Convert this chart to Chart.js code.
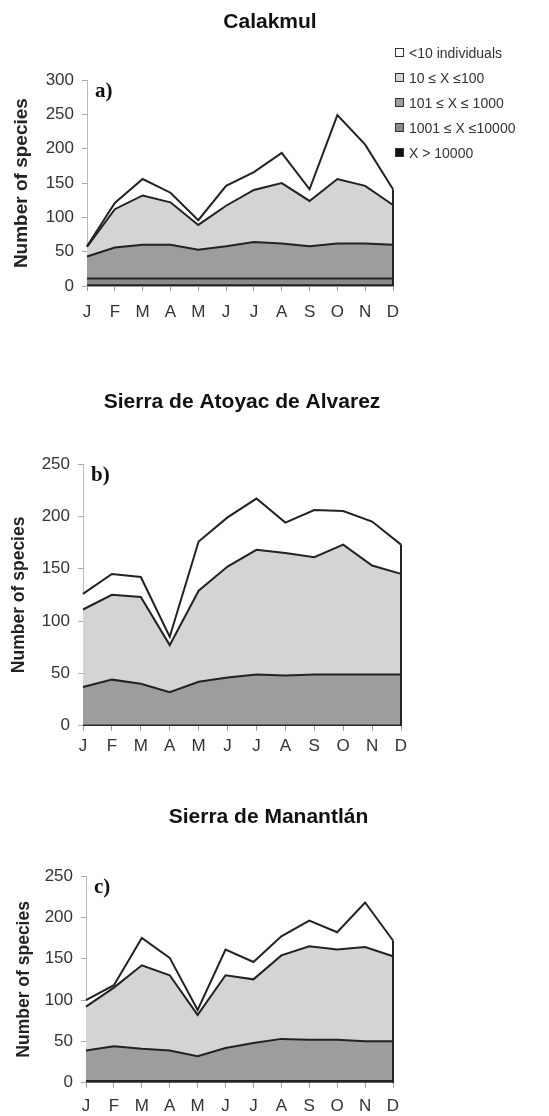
<!DOCTYPE html>
<html>
<head>
<meta charset="utf-8">
<script src="https://cdn.jsdelivr.net/npm/chart.js@4.4.1/dist/chart.umd.min.js"></script>
<style>
  body { margin: 0; background: #fff; width: 549px; height: 1116px; position: relative; overflow: hidden;
         font-family: "Liberation Sans", Arial, sans-serif; }
  canvas { position: absolute; left: 0; }
  #legend { position: absolute; left: 395px; top: 40px; font-size: 14px; color: #333; }
  #legend .item { height: 25px; display: flex; align-items: center; white-space: nowrap; }
  #legend .box { width: 7px; height: 7px; border: 1px solid #333; margin-right: 5px; }
</style>
</head>
<body>
<canvas id="calakmul" width="540" height="330" style="top:0px"></canvas>
<canvas id="atoyac" width="549" height="430" style="top:340px"></canvas>
<canvas id="manantlan" width="537" height="346" style="top:770px"></canvas>
<div id="legend"></div>
<script>
// months and abundance classes (legend order, top band first)
const months = ['J', 'F', 'M', 'A', 'M', 'J', 'J', 'A', 'S', 'O', 'N', 'D'];
const classLabels = ['<10 individuals', '10 \u2264 X \u2264100', '101 \u2264 X \u2264 1000', '1001 \u2264 X \u226410000', 'X > 10000'];

// a) Calakmul - species per class (not cumulative)
const calakmulOver10000 = [1, 1, 1, 1, 1, 1, 1, 1, 1, 1, 1, 1];
const calakmul1001to10000 = [10, 10, 10, 10, 10, 10, 10, 10, 10, 10, 10, 10];
const calakmul101to1000 = [32, 45, 49, 49, 42, 47, 53, 51, 47, 51, 51, 49];
const calakmul10to100 = [14, 56, 72, 62, 36, 59, 76, 88, 66, 94, 84, 58];
const calakmulUnder10 = [1, 9, 24, 14, 7, 29, 26, 44, 17, 93, 60, 23];

// b) Sierra de Atoyac de Alvarez
const atoyacOver10000 = [0, 0, 0, 0, 0, 0, 0, 0, 0, 0, 0, 0];
const atoyac1001to10000 = [0, 0, 0, 0, 0, 0, 0, 0, 0, 0, 0, 0];
const atoyac101to1000 = [37, 44, 40, 32, 42, 46, 49, 48, 49, 49, 49, 49];
const atoyac10to100 = [74, 81, 83, 45, 87, 106, 119, 117, 112, 124, 104, 96];
const atoyacUnder10 = [15, 20, 19, 8, 47, 47, 49, 29, 45, 32, 42, 28];

// c) Sierra de Manantlan
const manantlanOver10000 = [2, 2, 2, 2, 2, 2, 2, 2, 2, 2, 2, 2];
const manantlan1001to10000 = [0, 0, 0, 0, 0, 0, 0, 0, 0, 0, 0, 0];
const manantlan101to1000 = [37, 42, 39, 37, 30, 40, 46, 51, 50, 50, 48, 48];
const manantlan10to100 = [53, 71, 101, 91, 50, 88, 77, 101, 113, 109, 114, 103];
const manantlanUnder10 = [8, 3, 33, 21, 6, 31, 21, 23, 31, 21, 54, 19];

// fills, same order as classLabels
const classColors = ['#ffffff', '#d4d4d4', '#9d9d9d', '#8b8b8b', '#111111'];

const FONT = '"Liberation Sans", Arial, sans-serif';

// draws the "a)" / "b)" / "c)" tag inside the plot
const panelLetter = {
    id: 'panelLetter',
    afterDraw(chart, args, opts) {
        const { ctx, chartArea } = chart;
        ctx.save();
        ctx.font = 'bold 21px "Liberation Serif", "Times New Roman", serif';
        ctx.fillStyle = '#111';
        ctx.fillText(opts.text, chartArea.left + 8, chartArea.top + 17);
        ctx.restore();
    }
};

// closes the stack on the right with a dark edge at the last month
const rightEdge = {
    id: 'rightEdge',
    afterDatasetsDraw(chart) {
        const last = chart.getDatasetMeta(chart.data.datasets.length - 1).data;
        const pt = last[last.length - 1];
        const { ctx, chartArea } = chart;
        ctx.save();
        ctx.strokeStyle = '#222';
        ctx.lineWidth = 2;
        ctx.beginPath();
        ctx.moveTo(pt.x, pt.y);
        ctx.lineTo(pt.x, chartArea.bottom);
        ctx.stroke();
        ctx.restore();
    }
};

function stackedData(series) {
    // series given top band first, Chart.js stacks from first dataset up
    const bottomUp = series.slice().reverse();
    const colors = classColors.slice().reverse();
    const labels = classLabels.slice().reverse();
    return {
        labels: months,
        datasets: bottomUp.map((values, i) => ({
            label: labels[i],
            data: values,
            backgroundColor: colors[i],
            borderColor: '#222',
            borderWidth: 2,
            pointRadius: 0,
            tension: 0,
            fill: i === 0 ? 'origin' : '-1'
        }))
    };
}

function createPanel(chartId, series, p) {
    const ctx = document.getElementById(chartId).getContext('2d');
    return new Chart(ctx, {
        type: 'line',
        data: stackedData(series),
        plugins: [panelLetter, rightEdge],
        options: {
            responsive: false,
            animation: false,
            devicePixelRatio: 1,
            layout: { padding: { left: 0, right: 0, top: 0, bottom: p.padBottom } },
            plugins: {
                legend: { display: false },
                tooltip: { enabled: false },
                title: {
                    display: true,
                    text: p.title,
                    fullSize: p.titleFullSize,
                    color: '#111',
                    font: { family: FONT, size: 21, weight: 'bold' },
                    padding: { top: p.titleTop, bottom: p.titleBottom }
                },
                panelLetter: { text: p.letter }
            },
            scales: {
                x: {
                    grid: { display: true, drawOnChartArea: false, tickLength: 5, color: '#999' },
                    border: { color: '#999' },
                    ticks: { color: '#333', font: { family: FONT, size: 17 }, padding: p.xPad, autoSkip: false, maxRotation: 0 },
                    afterFit: s => { s.height = p.xHeight; }
                },
                y: {
                    stacked: true,
                    min: 0,
                    max: p.yMax,
                    grid: { display: true, drawOnChartArea: false, tickLength: 5, color: '#aaa' },
                    border: { color: '#bbb' },
                    ticks: { stepSize: 50, color: '#333', font: { family: FONT, size: 17 }, padding: 8 },
                    title: {
                        display: true,
                        text: 'Number of species',
                        color: '#222',
                        font: { family: FONT, size: p.yTitleSize, weight: 'bold' },
                        padding: { top: p.yTitlePad, bottom: 0 }
                    },
                    afterFit: s => { s.width = p.yWidth; }
                },
                // empty right-hand axis: only reserves the space beside the plot
                spacer: {
                    position: 'right',
                    grid: { display: false },
                    border: { display: false },
                    ticks: { display: false },
                    afterFit: s => { s.width = p.padRight; }
                }
            }
        }
    });
}

createPanel('calakmul',
    [calakmulUnder10, calakmul10to100, calakmul101to1000, calakmul1001to10000, calakmulOver10000],
    { title: 'Calakmul', titleFullSize: true, titleTop: 10, titleBottom: 45, letter: 'a)',
      yMax: 300, yWidth: 87, padRight: 147, padBottom: 8, xHeight: 36, xPad: 11,
      yTitleSize: 19, yTitlePad: 10 });

createPanel('atoyac',
    [atoyacUnder10, atoyac10to100, atoyac101to1000, atoyac1001to10000, atoyacOver10000],
    { title: 'Sierra de Atoyac de Alvarez', titleFullSize: false, titleTop: 50, titleBottom: 48.8, letter: 'b)',
      yMax: 250, yWidth: 83, padRight: 148, padBottom: 8.3, xHeight: 36, xPad: 5,
      yTitleSize: 17.5, yTitlePad: 9 });

createPanel('manantlan',
    [manantlanUnder10, manantlan10to100, manantlan101to1000, manantlan1001to10000, manantlanOver10000],
    { title: 'Sierra de Manantl\u00e1n', titleFullSize: true, titleTop: 34.4, titleBottom: 46.4, letter: 'c)',
      yMax: 250, yWidth: 86, padRight: 144, padBottom: 3.3, xHeight: 30, xPad: 8,
      yTitleSize: 17.5, yTitlePad: 13.5 });

// legend for panel a
const legend = document.getElementById('legend');
classLabels.forEach((label, i) => {
    const item = document.createElement('div');
    item.className = 'item';
    const box = document.createElement('span');
    box.className = 'box';
    box.style.background = classColors[i];
    item.appendChild(box);
    item.appendChild(document.createTextNode(label));
    legend.appendChild(item);
});
</script>
</body>
</html>
